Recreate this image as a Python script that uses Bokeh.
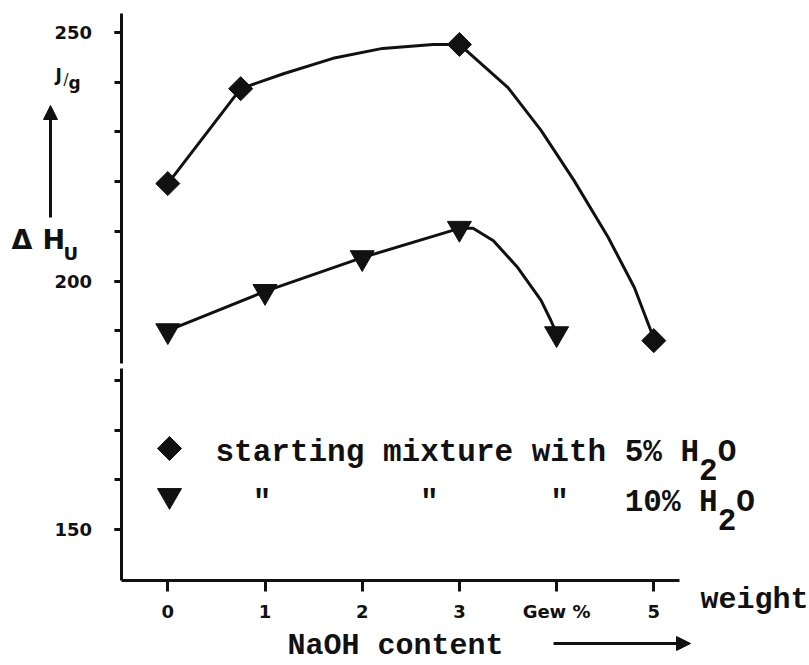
import math
from bokeh.plotting import figure
from bokeh.models import Range1d, FixedTicker, Label, Arrow, NormalHead, LinearAxis
from bokeh.embed import file_html
from bokeh.resources import INLINE

# ---------------- data ----------------
naoh_5 = [0, 0.75, 3, 5]                      # wt-% NaOH, mixture with 5% H2O
dh_5 = [219.6, 238.7, 247.6, 188.0]           # Delta H_u  J/g
naoh_10 = [0, 1, 2, 3, 4]                     # mixture with 10% H2O
dh_10 = [190.0, 197.9, 204.7, 210.6, 189.4]

# hand-drawn curves, points
curve5_x = [0, 0.75, 1.19, 1.70, 2.21, 2.73, 3.0, 3.50, 3.84, 4.18, 4.53, 4.80, 4.97, 5.0]
curve5_y = [219.6, 238.7, 241.7, 244.8, 246.8, 247.6, 247.6, 238.9, 230.3, 220.2, 208.8, 198.7, 190.0, 188.0]
curve10_x = [0, 1, 2, 3, 3.14, 3.35, 3.60, 3.84, 3.94, 4.0]
curve10_y = [190.0, 197.9, 204.7, 210.6, 210.6, 208.1, 202.7, 196.1, 192.1, 189.4]

x_ticks = [0, 1, 2, 3, 4, 5]
x_tick_overrides = {4: "Gew %"}
y_major_low = [150]
y_minor_low = [150, 160, 170, 180]
y_major_high = [200, 250]
y_minor_high = [190, 200, 210, 220, 230, 240, 250]
y_axis_break = (182.4, 183.5)   # the gap in the drawn ordinate line

legend_row1 = "starting mixture with 5% H"
legend_row2 = "10% H"

# ---------------- layout helpers (page px -> data) ----------------
W, H = 809, 665
PX0, PX_PER = 167.3, 97.2
PY250, PY_PER = 32.0, 4.97


def X(px):
    return (px - PX0) / PX_PER


def Y(py):
    return 250.0 - (py - PY250) / PY_PER


AX_LEFT, AX_RIGHT, AX_TOP, AX_BOTTOM = 120.5, 679, 13, 580

INK = "#111111"
MONO = "Liberation Mono"
SANS = "DejaVu Sans"

p = figure(width=W, height=H, output_backend="svg", toolbar_location=None,
           x_range=Range1d(X(0), X(W)), y_range=Range1d(Y(H), Y(0)),
           x_axis_location=None, y_axis_location=None,
           min_border=0, min_border_left=0, min_border_right=0,
           min_border_top=0, min_border_bottom=0)
p.outline_line_color = None
p.grid.visible = False
p.background_fill_color = "white"
p.border_fill_color = "white"


def style_axis(ax, tick_out):
    ax.axis_line_width = 3
    ax.axis_line_color = INK
    ax.major_tick_line_width = 3
    ax.major_tick_line_color = INK
    ax.minor_tick_line_width = 3
    ax.minor_tick_line_color = INK
    ax.major_tick_out = tick_out
    ax.major_tick_in = 0
    ax.minor_tick_out = tick_out
    ax.minor_tick_in = 0
    ax.major_label_text_font = SANS
    ax.major_label_text_font_style = "bold"
    ax.major_label_text_font_size = "18px"
    ax.major_label_text_color = INK


# x axis
xa = LinearAxis(ticker=FixedTicker(ticks=x_ticks, minor_ticks=[]),
                fixed_location=Y(AX_BOTTOM), bounds=(X(AX_LEFT), X(AX_RIGHT)))
style_axis(xa, 11)
xa.major_label_overrides = x_tick_overrides
xa.minor_tick_line_color = None
xa.major_label_standoff = 9
p.add_layout(xa, "below")

# y axis, in two parts (the drawn ordinate has a break)
ya_low = LinearAxis(ticker=FixedTicker(ticks=y_major_low, minor_ticks=y_minor_low),
                    fixed_location=X(AX_LEFT), bounds=(Y(AX_BOTTOM), y_axis_break[0]))
ya_high = LinearAxis(ticker=FixedTicker(ticks=y_major_high, minor_ticks=y_minor_high),
                     fixed_location=X(AX_LEFT), bounds=(y_axis_break[1], Y(AX_TOP)))
for ya in (ya_low, ya_high):
    style_axis(ya, 7)
    ya.major_label_standoff = 22
    p.add_layout(ya, "left")

# curves
p.line(curve5_x, curve5_y, line_width=3, line_color=INK)
p.line(curve10_x, curve10_y, line_width=3, line_color=INK)

# markers
p.scatter(naoh_5, dh_5, marker="square", angle=math.pi / 4, size=17,
          fill_color=INK, line_color=INK)
p.scatter(naoh_10, dh_10, marker="inverted_triangle", size=24,
          fill_color=INK, line_color=INK)

# legend keys
p.scatter([X(169)], [Y(448)], marker="square", angle=math.pi / 4, size=17,
          fill_color=INK, line_color=INK)
p.scatter([X(169)], [Y(495)], marker="inverted_triangle", size=24,
          fill_color=INK, line_color=INK)

PITCH = 18.6  # px per monospace character at 31px


def mono(text, px, py, size="31px"):
    p.add_layout(Label(x=X(px), y=Y(py), text=text, text_font=MONO, text_font_style="bold",
                       text_font_size=size, text_color=INK, text_baseline="alphabetic",
                       text_align="left"))


def sans(text, px, py, size, style="bold"):
    p.add_layout(Label(x=X(px), y=Y(py), text=text, text_font=SANS, text_font_style=style,
                       text_font_size=size, text_color=INK, text_baseline="alphabetic",
                       text_align="left"))


LX = 215
mono(legend_row1, LX, 452)
mono("2", LX + 26 * PITCH, 469)
mono("O", LX + 27 * PITCH, 452)
for cell in (2, 11, 18):
    mono('"', LX + cell * PITCH, 502)
mono(legend_row2, LX + 22 * PITCH, 502)
mono("2", LX + 27 * PITCH, 519)
mono("O", LX + 28 * PITCH, 502)

# axis titles
mono("weight", 700, 599, "30px")
mono("NaOH content", 287, 645, "30px")
p.add_layout(Arrow(end=NormalHead(size=14, fill_color=INK, line_color=INK),
                   x_start=X(553), y_start=Y(643), x_end=X(690), y_end=Y(643),
                   line_width=3, line_color=INK))

sans("\u0394", 11, 239, "27px")
sans("H", 42, 239, "27px")
sans("U", 63, 253, "18px")
sans("J", 55, 74, "17px")
sans("/", 63, 79, "15px", "normal")
sans("g", 68, 82, "17px")
p.add_layout(Arrow(end=NormalHead(size=14, fill_color=INK, line_color=INK),
                   x_start=X(50), y_start=Y(217), x_end=X(50), y_end=Y(105),
                   line_width=3, line_color=INK))

open("out.html", "w").write(file_html(p, INLINE))
